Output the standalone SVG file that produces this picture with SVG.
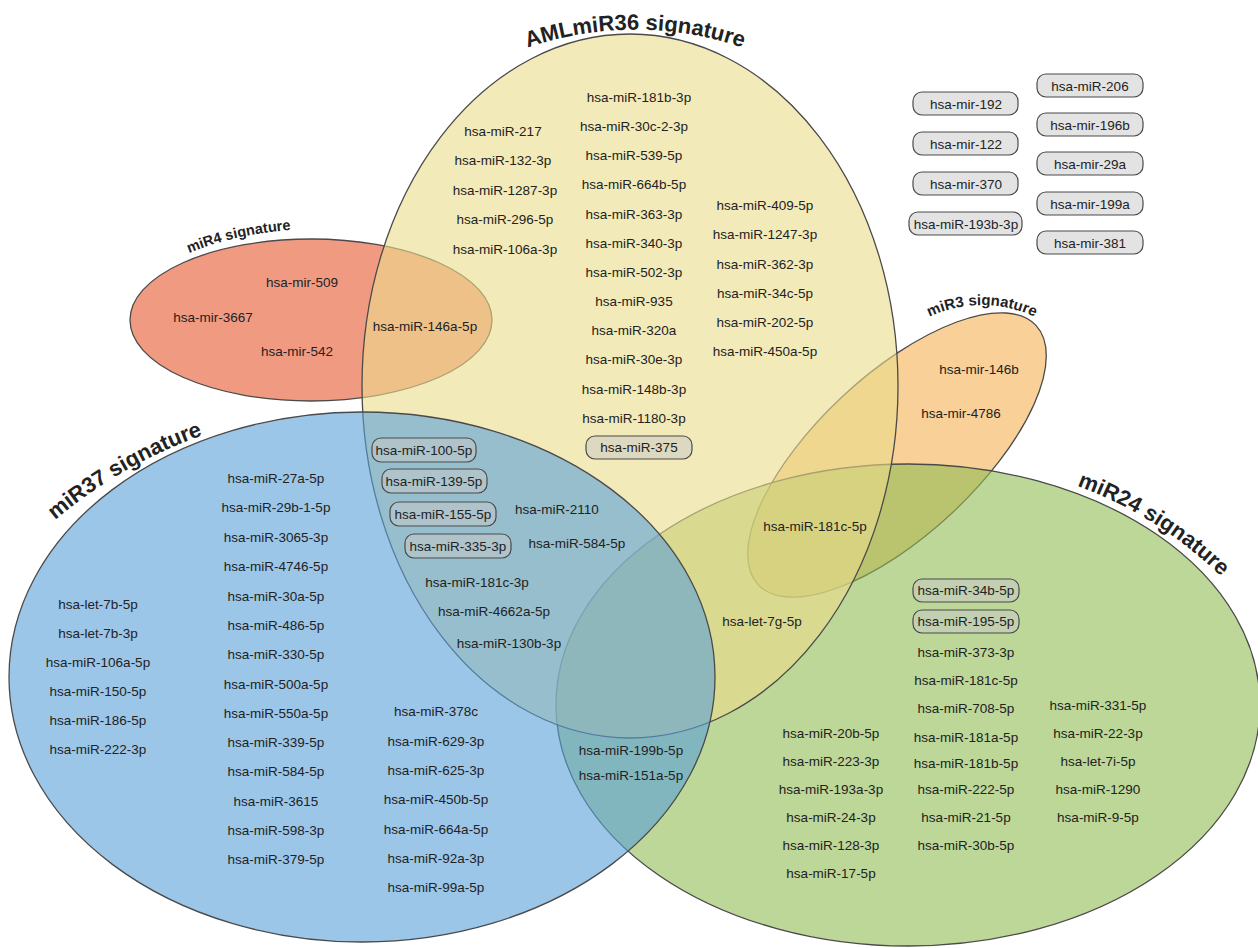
<svg xmlns="http://www.w3.org/2000/svg" width="1258" height="948" viewBox="0 0 1258 948">
<style>
.set{stroke:#4a4a4a;stroke-width:1.3;fill-opacity:0.6}
.t{font-family:"Liberation Sans",Arial,sans-serif;font-size:13.5px;fill:#222;text-anchor:middle}
.title{font-family:"Liberation Sans",Arial,sans-serif;font-weight:bold;fill:#222}
.box{fill:#c8c8c8;fill-opacity:0.5;stroke:#4a4a4a;stroke-width:1.2}
</style>
<defs>
<path id="p36" d="M 480,68 A 333 333 0 0 1 790,68"/>
<path id="p37" d="M 55,520 A 480 480 0 0 1 305,411"/>
<path id="p24" d="M 1077,486 A 401 401 0 0 1 1250,608"/>
<path id="p3" d="M 912,327 A 123 123 0 0 1 1052,327"/>
<path id="p4" d="M 189,253 Q 240,232 305,229"/>
</defs>
<rect width="1258" height="948" fill="#fff"/>

<g id="miR3">
<ellipse class="set" cx="897" cy="455" rx="190" ry="80" transform="rotate(-43 897 455)" fill="#F3B153"/>
</g>
<g id="miR4">
<ellipse class="set" cx="311" cy="320" rx="181" ry="81" fill="#E8572F"/>
</g>
<g id="miR24">
<ellipse class="set" cx="908" cy="705" rx="352" ry="241" fill="#91BC53"/>
</g>
<g id="AMLmiR36">
<ellipse class="set" cx="630" cy="386" rx="268" ry="352" fill="#EBDC8A"/>
</g>
<g id="miR37">
<ellipse class="set" cx="362" cy="677" rx="353" ry="265" fill="#5AA0D9"/>
</g>

<g id="titles">
<text class="title" font-size="22"><textPath href="#p36" startOffset="50%" text-anchor="middle">AMLmiR36 signature</textPath></text>
<text class="title" font-size="22"><textPath href="#p37">miR37 signature</textPath></text>
<text class="title" font-size="22"><textPath href="#p24">miR24 signature</textPath></text>
<text class="title" font-size="15"><textPath href="#p3" startOffset="50%" text-anchor="middle">miR3 signature</textPath></text>
<text class="title" font-size="14.5"><textPath href="#p4">miR4 signature</textPath></text>
</g>

<g id="boxes">
<rect class="box" x="913" y="92" width="105" height="23" rx="9"/>
<rect class="box" x="913" y="132" width="105" height="23" rx="9"/>
<rect class="box" x="913" y="172" width="105" height="23" rx="9"/>
<rect class="box" x="909" y="212" width="113" height="23" rx="9"/>
<rect class="box" x="1037" y="74" width="106" height="23" rx="9"/>
<rect class="box" x="1037" y="113" width="106" height="23" rx="9"/>
<rect class="box" x="1037" y="152" width="106" height="23" rx="9"/>
<rect class="box" x="1037" y="192" width="106" height="23" rx="9"/>
<rect class="box" x="1037" y="231" width="106" height="23" rx="9"/>
<rect class="box" x="586" y="436" width="106" height="23" rx="9"/>
<rect class="box" x="372" y="438" width="104" height="24" rx="9"/>
<rect class="box" x="382" y="469" width="105" height="24" rx="9"/>
<rect class="box" x="390" y="502" width="106" height="24" rx="9"/>
<rect class="box" x="405" y="534" width="106" height="24" rx="9"/>
<rect class="box" x="913" y="579" width="106" height="23" rx="9"/>
<rect class="box" x="913" y="610" width="106" height="23" rx="9"/>
</g>

<g id="labels-unassigned" class="t">
<text x="966" y="109">hsa-mir-192</text>
<text x="966" y="149">hsa-mir-122</text>
<text x="966" y="189">hsa-mir-370</text>
<text x="966" y="229">hsa-miR-193b-3p</text>
<text x="1090" y="91">hsa-miR-206</text>
<text x="1090" y="130">hsa-mir-196b</text>
<text x="1090" y="169">hsa-mir-29a</text>
<text x="1090" y="209">hsa-mir-199a</text>
<text x="1090" y="248">hsa-mir-381</text>
</g>

<g id="labels-AMLmiR36" class="t">
<text x="503" y="136">hsa-miR-217</text>
<text x="503" y="165">hsa-miR-132-3p</text>
<text x="505" y="195">hsa-miR-1287-3p</text>
<text x="505" y="224">hsa-miR-296-5p</text>
<text x="505" y="254">hsa-miR-106a-3p</text>
<text x="639" y="102">hsa-miR-181b-3p</text>
<text x="634" y="131">hsa-miR-30c-2-3p</text>
<text x="634" y="160">hsa-miR-539-5p</text>
<text x="634" y="189">hsa-miR-664b-5p</text>
<text x="634" y="219">hsa-miR-363-3p</text>
<text x="634" y="248">hsa-miR-340-3p</text>
<text x="634" y="277">hsa-miR-502-3p</text>
<text x="634" y="306">hsa-miR-935</text>
<text x="634" y="335">hsa-miR-320a</text>
<text x="634" y="364">hsa-miR-30e-3p</text>
<text x="634" y="394">hsa-miR-148b-3p</text>
<text x="634" y="423">hsa-miR-1180-3p</text>
<text x="639" y="452">hsa-miR-375</text>
<text x="765" y="210">hsa-miR-409-5p</text>
<text x="765" y="239">hsa-miR-1247-3p</text>
<text x="765" y="269">hsa-miR-362-3p</text>
<text x="765" y="298">hsa-miR-34c-5p</text>
<text x="765" y="327">hsa-miR-202-5p</text>
<text x="765" y="356">hsa-miR-450a-5p</text>
</g>

<g id="labels-miR4" class="t">
<text x="302" y="287">hsa-mir-509</text>
<text x="213" y="322">hsa-mir-3667</text>
<text x="297" y="356">hsa-mir-542</text>
<text x="425" y="331">hsa-miR-146a-5p</text>
</g>

<g id="labels-miR3" class="t">
<text x="979" y="374">hsa-mir-146b</text>
<text x="961" y="418">hsa-mir-4786</text>
<text x="815" y="531">hsa-miR-181c-5p</text>
</g>

<g id="labels-overlap-36-37" class="t">
<text x="424" y="455">hsa-miR-100-5p</text>
<text x="434" y="486">hsa-miR-139-5p</text>
<text x="443" y="519">hsa-miR-155-5p</text>
<text x="458" y="551">hsa-miR-335-3p</text>
<text x="557" y="514">hsa-miR-2110</text>
<text x="577" y="548">hsa-miR-584-5p</text>
<text x="477" y="587">hsa-miR-181c-3p</text>
<text x="494" y="616">hsa-miR-4662a-5p</text>
<text x="509" y="648">hsa-miR-130b-3p</text>
</g>

<g id="labels-miR37" class="t">
<text x="276" y="483">hsa-miR-27a-5p</text>
<text x="276" y="512">hsa-miR-29b-1-5p</text>
<text x="276" y="542">hsa-miR-3065-3p</text>
<text x="276" y="571">hsa-miR-4746-5p</text>
<text x="276" y="601">hsa-miR-30a-5p</text>
<text x="276" y="630">hsa-miR-486-5p</text>
<text x="276" y="659">hsa-miR-330-5p</text>
<text x="276" y="689">hsa-miR-500a-5p</text>
<text x="276" y="718">hsa-miR-550a-5p</text>
<text x="276" y="747">hsa-miR-339-5p</text>
<text x="276" y="776">hsa-miR-584-5p</text>
<text x="276" y="806">hsa-miR-3615</text>
<text x="276" y="835">hsa-miR-598-3p</text>
<text x="276" y="864">hsa-miR-379-5p</text>
<text x="98" y="609">hsa-let-7b-5p</text>
<text x="98" y="638">hsa-let-7b-3p</text>
<text x="98" y="667">hsa-miR-106a-5p</text>
<text x="98" y="696">hsa-miR-150-5p</text>
<text x="98" y="725">hsa-miR-186-5p</text>
<text x="98" y="754">hsa-miR-222-3p</text>
<text x="436" y="716">hsa-miR-378c</text>
<text x="436" y="746">hsa-miR-629-3p</text>
<text x="436" y="775">hsa-miR-625-3p</text>
<text x="436" y="804">hsa-miR-450b-5p</text>
<text x="436" y="834">hsa-miR-664a-5p</text>
<text x="436" y="863">hsa-miR-92a-3p</text>
<text x="436" y="892">hsa-miR-99a-5p</text>
</g>

<g id="labels-overlap-37-24" class="t">
<text x="631" y="755">hsa-miR-199b-5p</text>
<text x="631" y="780">hsa-miR-151a-5p</text>
</g>

<g id="labels-overlap-36-24" class="t">
<text x="762" y="626">hsa-let-7g-5p</text>
</g>

<g id="labels-miR24" class="t">
<text x="966" y="595">hsa-miR-34b-5p</text>
<text x="966" y="626">hsa-miR-195-5p</text>
<text x="966" y="657">hsa-miR-373-3p</text>
<text x="966" y="685">hsa-miR-181c-5p</text>
<text x="966" y="713">hsa-miR-708-5p</text>
<text x="966" y="742">hsa-miR-181a-5p</text>
<text x="966" y="768">hsa-miR-181b-5p</text>
<text x="966" y="794">hsa-miR-222-5p</text>
<text x="966" y="822">hsa-miR-21-5p</text>
<text x="966" y="850">hsa-miR-30b-5p</text>
<text x="831" y="738">hsa-miR-20b-5p</text>
<text x="831" y="766">hsa-miR-223-3p</text>
<text x="831" y="794">hsa-miR-193a-3p</text>
<text x="831" y="822">hsa-miR-24-3p</text>
<text x="831" y="850">hsa-miR-128-3p</text>
<text x="831" y="878">hsa-miR-17-5p</text>
<text x="1098" y="710">hsa-miR-331-5p</text>
<text x="1098" y="738">hsa-miR-22-3p</text>
<text x="1098" y="766">hsa-let-7i-5p</text>
<text x="1098" y="794">hsa-miR-1290</text>
<text x="1098" y="822">hsa-miR-9-5p</text>
</g>
</svg>
